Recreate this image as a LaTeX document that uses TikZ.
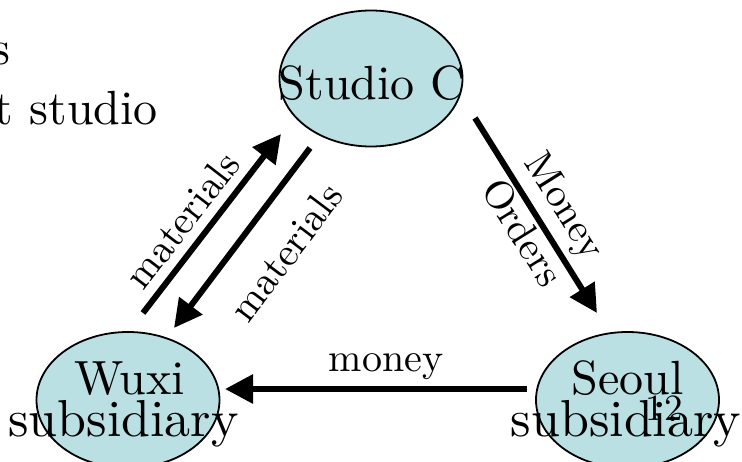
\documentclass[tikz,border=0pt]{standalone}
\usepackage{fontspec}
\setmainfont{lmroman10-regular.otf}
\usetikzlibrary{arrows.meta,shapes.geometric}
\definecolor{bubblefill}{RGB}{187,224,228}
\tikzset{
  bubble/.style={ellipse, draw=black, line width=1.8pt, fill=bubblefill, minimum width=183pt, minimum height=136pt, inner sep=0pt},
  big/.style={font=\fontsize{48}{41}\selectfont, inner sep=0pt, anchor=base},
  wide/.style={font=\fontsize{52}{41}\selectfont, inner sep=0pt, anchor=base},
  lbl/.style={font=\fontsize{40}{40}\selectfont, inner sep=0pt},
  num/.style={font=\fontsize{37}{37}\selectfont, inner sep=0pt},
  flow/.style={line width=6pt, -{Triangle[length=28pt,width=28pt]}},
}
\begin{document}
\begin{tikzpicture}[x=1pt,y=-1pt]
\useasboundingbox (0,0) rectangle (742,462);
% partial slide text
\node[big, anchor=base east] (t1) at (11,65) {s};
\node[big, anchor=base east] (t2) at (158,125) {t studio};
% ellipses
\node[bubble] (studio) at (371,78.5) {};
\node[bubble] (wuxi) at (128,400) {};
\node[bubble] (seoul) at (627.5,400) {};
% node texts
\node[big] (studioT) at (372,100) {Studio C};
\node[big] (wuxiT1) at (129.5,395) {Wuxi};
\node[wide] (wuxiT2) at (123.5,436) {subsidiary};
\node[big] (seoulT1) at (627.5,395) {Seoul};
\node[wide] (seoulT2) at (626,436) {subsidiary};
\node[num] (pnum) at (664,408) {12};
% connector end points
\coordinate (m1s) at (143,313);
\coordinate (m1e) at (281,134);
\coordinate (m2s) at (310,148);
\coordinate (m2e) at (174,328);
\coordinate (oS) at (475,118);
\coordinate (oE) at (597,313);
\coordinate (mS) at (527,389);
\coordinate (mE) at (225,389);
% connectors
\draw[flow] (m1s) -- (m1e);
\draw[flow] (m2s) -- (m2e);
\draw[flow] (oS) -- (oE);
\draw[flow] (mS) -- (mE);
% labels
\node[lbl, rotate=52.4] (lm1) at (182,220) {materials};
\node[lbl, rotate=53] (lm2) at (286,252) {materials};
\node[lbl, rotate=-58] (lmo) at (563,207) {Money};
\node[lbl, rotate=-58] (lor) at (523,232) {Orders};
\node[lbl, anchor=base] (lmn) at (386,372) {money};
\end{tikzpicture}
\end{document}
